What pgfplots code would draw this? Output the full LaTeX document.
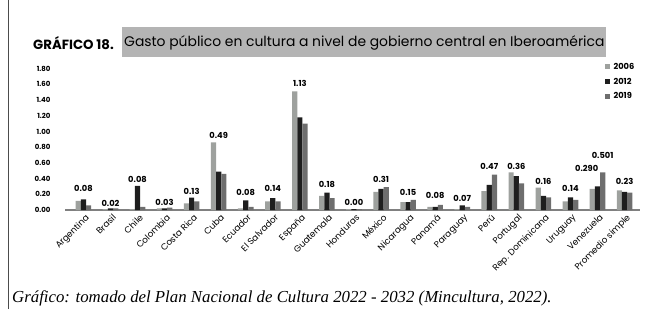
\documentclass[border=0pt]{standalone}
\usepackage{fontspec}
\setmainfont{Poppins}
\newfontfamily\capfont{Liberation Serif}
\usepackage{pgfplots}
\pgfplotsset{compat=1.18}
\definecolor{cA}{HTML}{9EA19E}
\definecolor{cB}{HTML}{1E1E1E}
\definecolor{cC}{HTML}{6E6E6E}
\definecolor{titlebg}{HTML}{B4B4B4}
\begin{document}
\begin{tikzpicture}[x=1pt,y=1pt]
\useasboundingbox (0,0) rectangle (653,309);
\draw[black!70, line width=1pt] (8.5,0) -- (8.5,309);
\fill[titlebg] (121.7,252) rectangle (606,282);
\node[anchor=west, inner sep=0pt, font=\bfseries\fontsize{13.3}{15}\selectfont] at (33,266) {GRÁFICO 18.};
\node[anchor=west, inner sep=0pt, font=\fontsize{13.9}{15}\selectfont] at (124,266) {Gasto público en cultura a nivel de gobierno central en Iberoamérica};
\node[anchor=west, inner sep=0pt, font=\capfont\itshape\fontsize{16.8}{18}\selectfont] at (12,11) {Gráfico: tomado del Plan Nacional de Cultura 2022 - 2032 (Mincultura, 2022).};
\begin{axis}[
  at={(65pt,99pt)}, anchor=south west,
  scale only axis, width=575pt, height=141.3pt,
  xmin=-0.68, xmax=20.57, ymin=0, ymax=1.8,
  axis x line=bottom, axis y line=left,
  axis line style={-},
  x axis line style={draw=gray, line width=1.5pt},
  y axis line style={draw=none},
  major tick length=0pt,
  ytick={0,0.2,0.4,0.6,0.8,1.0,1.2,1.4,1.6,1.8},
  yticklabel style={font=\bfseries\fontsize{7}{8}\selectfont, xshift=-11pt,
    /pgf/number format/.cd, fixed, fixed zerofill, precision=2, assume math mode=true},
  xtick={0,...,20},
  xticklabels={Argentina,Brasil,Chile,Colombia,Costa Rica,Cuba,Ecuador,El Salvador,España,Guatemala,Honduras,México,Nicaragua,Panamá,Paraguay,Perú,Portugal,Rep. Dominicana,Uruguay,Venezuela,Promedio simple},
  xticklabel style={rotate=45, anchor=north east, font=\fontsize{8.8}{9}\selectfont, xshift=2pt},
  legend style={draw=none, fill=none, at={(0.938,1.055)}, anchor=north west,
    font=\bfseries\fontsize{8.3}{9}\selectfont, row sep=3pt, inner sep=0pt,
    nodes={inner xsep=4pt}},
  legend cell align=left,
  legend image code/.code={\fill (0pt,-2.5pt) rectangle (5pt,2.5pt);},
]
\addplot[ybar, bar width=5.2pt, bar shift=-5.2pt, fill=cA, draw=none] coordinates {
(0,0.115) (1,0.01) (2,0.01) (3,0.02) (4,0.085) (5,0.86) (6,0.02) (7,0.11) (8,1.51) (9,0.18)
(10,0.01) (11,0.23) (12,0.10) (13,0.04) (14,0.01) (15,0.24) (16,0.48) (17,0.285) (18,0.11) (19,0.27) (20,0.25)};
\addlegendentry{2006}
\addplot[ybar, bar width=5.2pt, bar shift=0pt, fill=cB, draw=none] coordinates {
(0,0.136) (1,0.02) (2,0.306) (3,0.02) (4,0.157) (5,0.49) (6,0.123) (7,0.15) (8,1.18) (9,0.22)
(10,0.01) (11,0.27) (12,0.10) (13,0.04) (14,0.06) (15,0.32) (16,0.43) (17,0.18) (18,0.16) (19,0.30) (20,0.23)};
\addlegendentry{2012}
\addplot[ybar, bar width=5.2pt, bar shift=5.2pt, fill=cC, draw=none] coordinates {
(0,0.06) (1,0.02) (2,0.04) (3,0.03) (4,0.11) (5,0.46) (6,0.04) (7,0.11) (8,1.10) (9,0.15)
(10,0.01) (11,0.29) (12,0.13) (13,0.065) (14,0.04) (15,0.45) (16,0.34) (17,0.16) (18,0.13) (19,0.48) (20,0.22)};
\addlegendentry{2019}
\addplot[forget plot, only marks, mark=*, mark size=0pt, mark options={draw=none, fill=none},
  nodes near coords, point meta=explicit symbolic,
  nodes near coords style={anchor=center, font=\bfseries\fontsize{8.3}{9}\selectfont, text=black}] coordinates {
(0,0.28) [0.08] (1,0.085) [0.02] (2,0.395) [0.08] (3,0.093) [0.03] (4,0.233) [0.13]
(5,0.955) [0.49] (6,0.225) [0.08] (7,0.27) [0.14] (8,1.61) [1.13] (9,0.33) [0.18]
(10,0.093) [0.00] (11,0.395) [0.31] (12,0.22) [0.15] (13,0.19) [0.08] (14,0.15) [0.07]
(15,0.55) [0.47] (16,0.55) [0.36] (17,0.36) [0.16] (18,0.27) [0.14]
(18.6,0.53) [0.290] (19.19,0.69) [0.501] (20,0.36) [0.23]};
\end{axis}
\end{tikzpicture}
\end{document}
